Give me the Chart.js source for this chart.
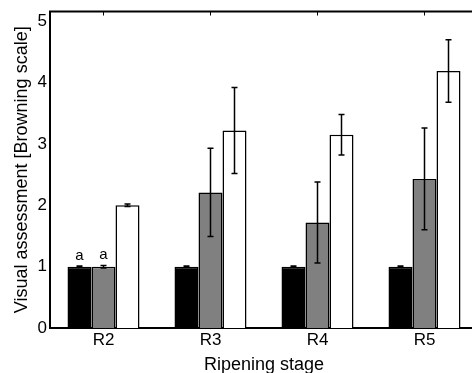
<!DOCTYPE html>
<html>
<head>
<meta charset="utf-8">
<script src="https://cdn.jsdelivr.net/npm/chart.js@4/dist/chart.umd.min.js"></script>
<style>
  body { margin: 0; background: #fff; }
  #wrap { width: 472px; height: 373px; overflow: hidden; position: relative; }
  canvas { display: block; }
</style>
</head>
<body>
<div id="wrap"><canvas id="chart" width="490" height="380" style="width:490px;height:380px"></canvas></div>
<script>
// ── Data ──
const categories = ['R2', 'R3', 'R4', 'R5'];
const blackMeans = [1.00, 1.00, 1.00, 1.00];
const blackErr   = [0.01, 0.01, 0.01, 0.01];
const grayMeans  = [1.00, 2.21, 1.72, 2.43];
const grayErr    = [0.02, 0.72, 0.66, 0.83];
const whiteMeans = [2.00, 3.22, 3.15, 4.19];
const whiteErr   = [0.02, 0.70, 0.33, 0.51];
const blackTags  = ['a', '', '', ''];
const grayTags   = ['a', '', '', ''];
const whiteTags  = ['', '', '', ''];
const yTicks     = [0, 1, 2, 3, 4, 5];

const FONT = "'Liberation Sans', Arial, sans-serif";

// error bars + letter tags over each bar
const errorBars = {
    id: 'errorBars',
    afterDatasetsDraw(chart) {
        const { ctx, scales: { y } } = chart;
        chart.data.datasets.forEach((ds, di) => {
            const meta = chart.getDatasetMeta(di);
            meta.data.forEach((bar, i) => {
                const v = ds.data[i], e = ds.err[i];
                const yt = y.getPixelForValue(v + e);
                const yb = y.getPixelForValue(v - e);
                ctx.save();
                ctx.strokeStyle = '#000';
                ctx.lineWidth = 1.5;
                ctx.beginPath();
                ctx.moveTo(bar.x, yt); ctx.lineTo(bar.x, yb);
                ctx.moveTo(bar.x - 3, yt); ctx.lineTo(bar.x + 3, yt);
                ctx.moveTo(bar.x - 3, yb); ctx.lineTo(bar.x + 3, yb);
                ctx.stroke();
                if (ds.tags[i]) {
                    ctx.fillStyle = '#000';
                    ctx.font = '15px ' + FONT;
                    ctx.textAlign = 'center';
                    ctx.textBaseline = 'alphabetic';
                    ctx.fillText(ds.tags[i], bar.x, yt - 6);
                }
                ctx.restore();
            });
        });
    }
};

// top border with inward category ticks, right border
const frame = {
    id: 'frame',
    afterDraw(chart) {
        const { ctx, chartArea: a, scales: { x } } = chart;
        ctx.save();
        ctx.strokeStyle = '#000';
        ctx.lineWidth = 2;
        ctx.beginPath();
        ctx.moveTo(a.left - 1, a.top); ctx.lineTo(a.right, a.top);
        ctx.lineTo(a.right, a.bottom);
        ctx.stroke();
        ctx.lineWidth = 1;
        ctx.beginPath();
        categories.forEach((c, i) => {
            const px = x.getPixelForValue(i);
            ctx.moveTo(px, a.top); ctx.lineTo(px, a.top + 4);
        });
        ctx.stroke();
        ctx.restore();
    }
};

new Chart(document.getElementById('chart'), {
    type: 'bar',
    data: {
        labels: categories,
        datasets: [
            { data: blackMeans, err: blackErr, tags: blackTags, backgroundColor: '#000000' },
            { data: grayMeans,  err: grayErr,  tags: grayTags,  backgroundColor: '#808080' },
            { data: whiteMeans, err: whiteErr, tags: whiteTags, backgroundColor: '#ffffff' }
        ].map(d => Object.assign(d, {
            borderColor: '#000',
            borderWidth: 1.5,
            categoryPercentage: 0.673,
            barPercentage: 1
        }))
    },
    options: {
        responsive: false,
        animation: false,
        devicePixelRatio: 1,
        layout: { padding: { left: 0, top: 10, right: 12, bottom: 0 } },
        plugins: { legend: { display: false }, tooltip: { enabled: false } },
        scales: {
            x: {
                grid: { display: false, drawTicks: false },
                border: { color: '#000', width: 2 },
                ticks: { color: '#000', padding: 4, font: { family: FONT, size: 17, lineHeight: 1 } },
                title: {
                    display: true, text: 'Ripening stage', color: '#000',
                    font: { family: FONT, size: 18 }, padding: { top: 0, bottom: 4 }
                },
                afterFit: s => { s.height = 52; }
            },
            y: {
                min: 0, max: 5.16,
                grid: { display: false, drawTicks: false },
                border: { color: '#000', width: 2 },
                ticks: { color: '#000', padding: 3, font: { family: FONT, size: 17, lineHeight: 1 } },
                afterBuildTicks: s => { s.ticks = yTicks.map(v => ({ value: v })); },
                title: {
                    display: true, text: 'Visual assessment [Browning scale]', color: '#000',
                    font: { family: FONT, size: 18 }, padding: { top: 11, bottom: 0 }
                },
                afterFit: s => { s.width = 50; }
            }
        }
    },
    plugins: [errorBars, frame]
});
</script>
</body>
</html>
